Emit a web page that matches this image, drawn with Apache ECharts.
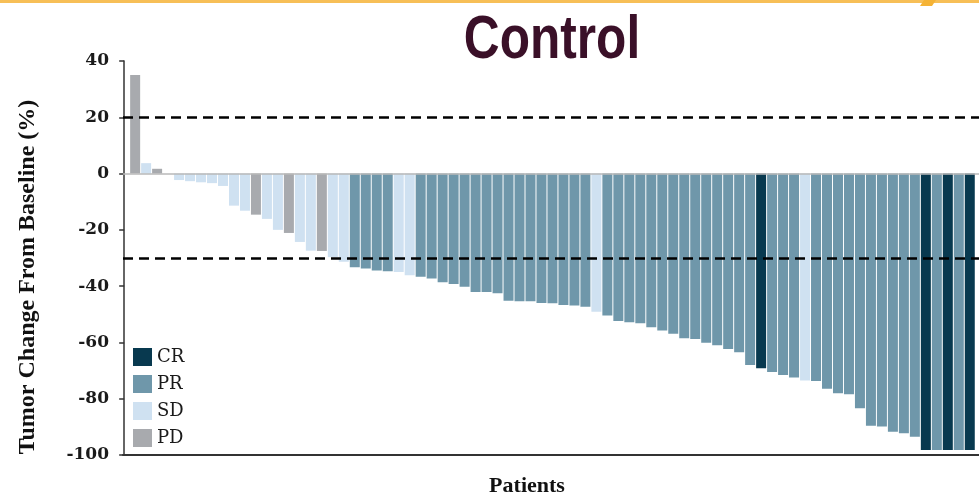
<!DOCTYPE html>
<html>
<head>
<meta charset="utf-8">
<title>Control</title>
<script src="https://cdn.jsdelivr.net/npm/echarts@6/dist/echarts.min.js"></script>
<style>
  html, body { margin: 0; padding: 0; background: #ffffff; }
  #chart { width: 979px; height: 494px; }
</style>
</head>
<body>
<div id="chart"></div>
<script>
// Best percentage change in tumour size from baseline, one bar per patient (waterfall)
const patients = Array.from({ length: 77 }, (_, i) => i + 1);

const changes = [
  35.0, 3.7, 1.7, 0, -2.3, -2.7, -3.1, -3.4, -4.4, -11.4,
  -13.2, -14.6, -16.1, -20.0, -21.1, -24.3, -27.4, -27.5, -29.7, -31.3,
  -33.3, -33.7, -34.4, -34.7, -35.0, -36.1, -36.7, -37.3, -38.6, -39.2,
  -40.2, -42.1, -42.1, -42.5, -45.2, -45.4, -45.4, -46.0, -46.1, -46.7,
  -46.9, -47.3, -49.1, -50.4, -52.4, -52.8, -53.2, -54.6, -55.8, -56.9,
  -58.5, -58.8, -60.1, -61.0, -62.3, -63.5, -68.0, -69.2, -70.5, -71.6,
  -72.5, -73.5, -73.7, -76.5, -78.1, -78.4, -83.4, -89.6, -89.9, -91.7,
  -92.3, -93.5, -98.2, -98.2, -98.2, -98.2, -98.2
];

const responses = [
  'PD', 'SD', 'PD', 'SD', 'SD', 'SD', 'SD', 'SD', 'SD', 'SD',
  'SD', 'PD', 'SD', 'SD', 'PD', 'SD', 'SD', 'PD', 'SD', 'SD',
  'PR', 'PR', 'PR', 'PR', 'SD', 'SD', 'PR', 'PR', 'PR', 'PR',
  'PR', 'PR', 'PR', 'PR', 'PR', 'PR', 'PR', 'PR', 'PR', 'PR',
  'PR', 'PR', 'SD', 'PR', 'PR', 'PR', 'PR', 'PR', 'PR', 'PR',
  'PR', 'PR', 'PR', 'PR', 'PR', 'PR', 'PR', 'CR', 'PR', 'PR',
  'PR', 'SD', 'PR', 'PR', 'PR', 'PR', 'PR', 'PR', 'PR', 'PR',
  'PR', 'PR', 'CR', 'PR', 'CR', 'PR', 'CR'
];

const responseTypes = ['CR', 'PR', 'SD', 'PD'];
const responseColors = { CR: '#08394f', PR: '#6f97aa', SD: '#cfe1f1', PD: '#a8aaae' };

const yTicks = [-100, -80, -60, -40, -20, 0, 20, 40];
const thresholds = [20, -30];

const serif = '"Liberation Serif", "Times New Roman", serif';

const barSeries = responseTypes.map(type => ({
  name: type,
  type: 'bar',
  stack: 'response',
  barWidth: 10,
  itemStyle: { color: responseColors[type] },
  emphasis: { disabled: true },
  data: patients.map((p, i) => responses[i] === type ? [p, changes[i]] : [p, null])
}));

const chart = echarts.init(document.getElementById('chart'), null, { renderer: 'canvas' });

chart.setOption({
  animation: false,
  backgroundColor: '#ffffff',
  graphic: [
    {
      type: 'rect',
      left: 0,
      top: 0,
      shape: { width: 979, height: 3 },
      style: { fill: '#f7bf57' },
      silent: true
    },
    {
      type: 'polygon',
      silent: true,
      shape: { points: [[924, 0], [936, 0], [932, 6], [920, 6]] },
      style: { fill: '#f5b335' }
    },
    {
      // condensed heading: bold sans squeezed horizontally
      type: 'text',
      x: 552,
      y: 10,
      scaleX: 0.8,
      silent: true,
      style: {
        text: 'Control',
        font: 'bold 62px "Liberation Sans", Arial, sans-serif',
        fill: '#3a1028',
        align: 'center',
        verticalAlign: 'top'
      }
    }
  ],
  legend: {
    data: responseTypes,
    orient: 'vertical',
    left: 128,
    top: 343,
    itemWidth: 19,
    itemHeight: 18,
    itemGap: 9,
    icon: 'rect',
    selectedMode: false,
    textStyle: { fontFamily: '"DejaVu Serif", serif', fontSize: 18, color: '#1a1a1a' }
  },
  grid: { left: 123, right: 0, top: 61, bottom: 39, containLabel: false, outerBoundsMode: 'none' },
  xAxis: {
    type: 'value',
    min: -0.106,
    max: 77.84,
    name: 'Patients',
    nameLocation: 'middle',
    nameGap: 20,
    nameTextStyle: {
      fontFamily: serif, fontWeight: 'bold', fontSize: 22, color: '#111',
      padding: [0, 48, 0, 0]
    },
    axisLine: { show: true, onZero: false, lineStyle: { color: '#333', width: 2 } },
    axisTick: { show: false },
    axisLabel: { show: false },
    splitLine: { show: false }
  },
  yAxis: {
    type: 'value',
    min: yTicks[0],
    max: yTicks[yTicks.length - 1],
    interval: 20,
    name: 'Tumor Change From Baseline (%)',
    nameLocation: 'middle',
    nameGap: 83,
    nameTextStyle: {
      fontFamily: serif, fontWeight: 'bold', fontSize: 24, color: '#111',
      padding: [0, 38, 0, 0]
    },
    axisLine: { show: true, lineStyle: { color: '#333', width: 1.5 } },
    axisTick: { show: true, length: 5, lineStyle: { color: '#333', width: 1.5 } },
    axisLabel: {
      margin: 14,
      fontFamily: '"DejaVu Serif", serif',
      fontWeight: 'bold',
      fontSize: 17,
      color: '#1a1a1a'
    },
    splitLine: { show: false }
  },
  series: [
    ...barSeries,
    {
      name: 'reference',
      type: 'line',
      data: [],
      z: 5,
      silent: true,
      markLine: {
        silent: true,
        symbol: 'none',
        label: { show: false },
        animation: false,
        data: [
          { yAxis: 0, lineStyle: { color: '#b8b8b8', width: 1.5, type: 'solid' } },
          ...thresholds.map(v => ({ yAxis: v, lineStyle: { color: '#000', width: 2.5, type: [10, 6] } }))
        ]
      }
    }
  ]
});
</script>
</body>
</html>
